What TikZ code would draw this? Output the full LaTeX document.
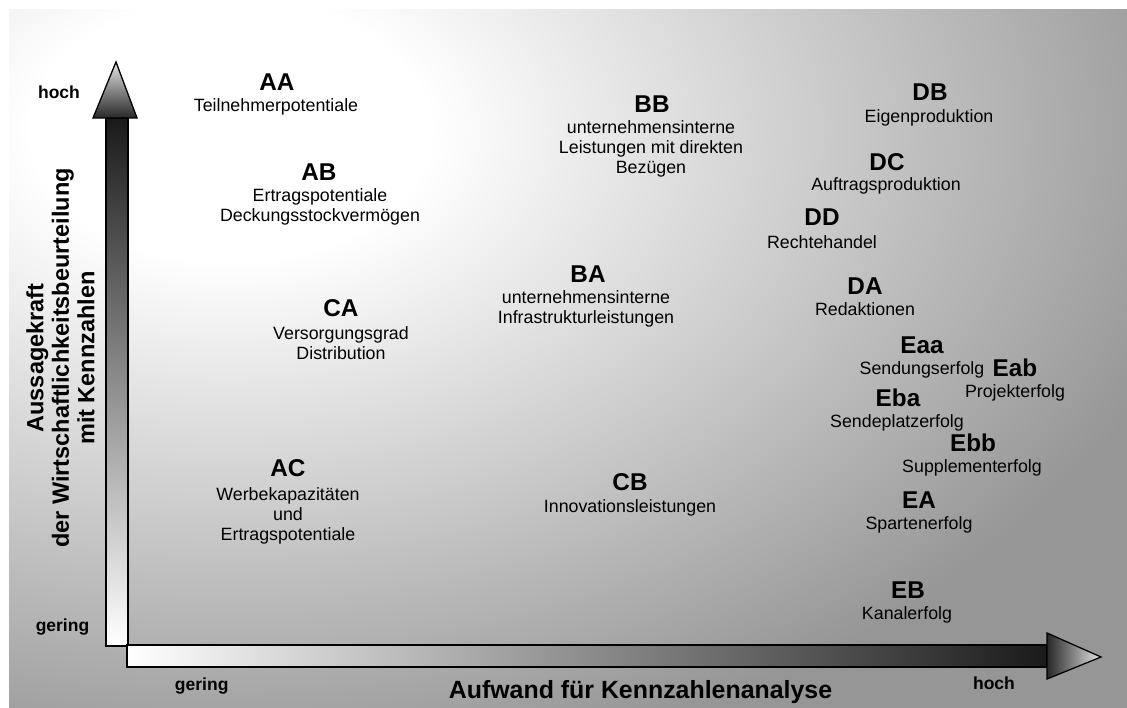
\documentclass[tikz,border=0pt]{standalone}
\usepackage{fontspec}
\setmainfont{Liberation Sans}
\definecolor{bgout}{RGB}{150,150,150}
\definecolor{shaftdark}{RGB}{26,26,26}
\definecolor{headdark}{RGB}{40,40,40}
\definecolor{headlight}{RGB}{230,230,230}
\pgfdeclareradialshading{bgshade}{\pgfpoint{0bp}{0bp}}{color(0bp)=(white); color(5bp)=(white); color(25bp)=(bgout); color(50bp)=(bgout)}
\tikzset{
  code/.style={font=\fontsize{24.3}{28}\selectfont\bfseries, inner sep=0pt},
  desc/.style={font=\fontsize{17.8}{20}\selectfont, align=center, inner sep=0pt},
  axlab/.style={font=\fontsize{17.5}{20}\selectfont\bfseries, inner sep=0pt},
  ytitlestyle/.style={font=\fontsize{23.5}{25.5}\selectfont\bfseries, align=center, inner sep=0pt},
  xtitlestyle/.style={font=\fontsize{24.9}{28}\selectfont\bfseries, inner sep=0pt},
  arrowpart/.style={draw=black, line width=1.3pt, line join=miter}
}
\begin{document}
\begin{tikzpicture}[x=1pt,y=-1pt]
\useasboundingbox (0,0) rectangle (1127,708);
% background
\fill[bgout] (9,10) rectangle (1127,708);
\begin{scope}
  \clip (9,10) rectangle (1127,708);
  \shade[shading=bgshade] (230,130) ellipse [x radius=1000, y radius=650];
\end{scope}
% vertical axis arrow
\path[arrowpart, top color=shaftdark, bottom color=white] (106,118) rectangle (128,646);
\path[arrowpart, top color=headlight, bottom color=headdark] (93,118) -- (116,62) -- (137,118) -- cycle;
% horizontal axis arrow
\path[arrowpart, left color=white, right color=shaftdark] (127,645) rectangle (1047,667);
\path[arrowpart, left color=headdark, right color=headlight] (1047,633) -- (1101,657) -- (1047,679) -- cycle;
% axis labels
\node[axlab] (yhi) at (59,92) {hoch};
\node[axlab] (ylo) at (62.5,627) {gering};
\node[axlab] (xlo) at (201.7,686) {gering};
\node[axlab] (xhi) at (994,683) {hoch};
\node[ytitlestyle, rotate=90] (ytitle) at (60.5,358) {Aussagekraft\\der Wirtschaftlichkeitsbeurteilung\\mit Kennzahlen};
\node[xtitlestyle] (xtitle) at (640.5,692) {Aufwand für Kennzahlenanalyse};
% A group
\node[code] (AA) at (277,82) {AA};
\node[desc] (AAt) at (276,107) {Teilnehmerpotentiale};
\node[code] (AB) at (319,172) {AB};
\node[desc] (ABt) at (320,207) {Ertragspotentiale\\Deckungsstockvermögen};
\node[code] (CA) at (341,308) {CA};
\node[desc] (CAt) at (341,343) {Versorgungsgrad\\Distribution};
\node[code] (AC) at (288,468) {AC};
\node[desc] (ACt) at (288,516) {Werbekapazitäten\\und\\Ertragspotentiale};
% B group
\node[code] (BB) at (652,104) {BB};
\node[desc] (BBt) at (651,149) {unternehmensinterne\\Leistungen mit direkten\\Bezügen};
\node[code] (BA) at (588,274) {BA};
\node[desc] (BAt) at (586,309) {unternehmensinterne\\Infrastrukturleistungen};
\node[code] (CB) at (630,482) {CB};
\node[desc] (CBt) at (630,508) {Innovationsleistungen};
% D group
\node[code] (DB) at (930,92) {DB};
\node[desc] (DBt) at (929,118) {Eigenproduktion};
\node[code] (DC) at (887,162) {DC};
\node[desc] (DCt) at (886,186) {Auftragsproduktion};
\node[code] (DD) at (822,217) {DD};
\node[desc] (DDt) at (822,242) {Rechtehandel};
\node[code] (DA) at (865,286) {DA};
\node[desc] (DAt) at (865,309) {Redaktionen};
% E group
\node[code] (Eaa) at (922,345) {Eaa};
\node[desc] (Eaat) at (922,370) {Sendungserfolg};
\node[code] (Eab) at (1015,368) {Eab};
\node[desc] (Eabt) at (1015,393) {Projekterfolg};
\node[code] (Eba) at (898,398) {Eba};
\node[desc] (Ebat) at (897,423) {Sendeplatzerfolg};
\node[code] (Ebb) at (973,443) {Ebb};
\node[desc] (Ebbt) at (972,468) {Supplementerfolg};
\node[code] (EA) at (919,500) {EA};
\node[desc] (EAt) at (919,525) {Spartenerfolg};
\node[code] (EB) at (908,590) {EB};
\node[desc] (EBt) at (907,615) {Kanalerfolg};
\end{tikzpicture}
\end{document}
